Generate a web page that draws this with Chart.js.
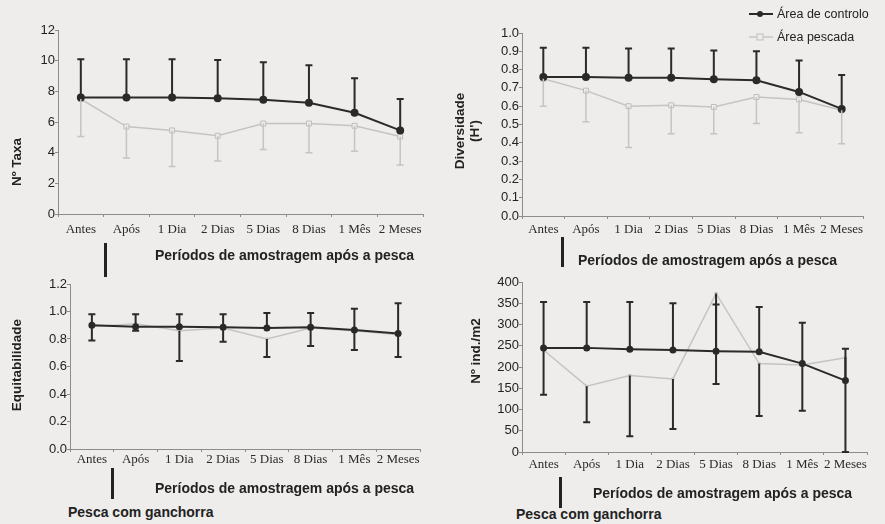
<!DOCTYPE html>
<html>
<head>
<meta charset="utf-8">
<script src="https://cdn.jsdelivr.net/npm/chart.js@4.4.1/dist/chart.umd.min.js"></script>
<style>
  body { margin:0; width:885px; height:524px; overflow:hidden; position:relative;
         background:#eeedeb; font-family:'Liberation Sans', Arial, sans-serif; color:#222; }
  canvas { position:absolute; }
  .t { position:absolute; white-space:nowrap; font-weight:bold; font-size:14px; line-height:14px; }
  .yt { position:absolute; white-space:nowrap; font-weight:bold; font-size:13.5px; line-height:15px;
        text-align:center; transform:translate(-50%,-50%) rotate(-90deg); }
  .mark { position:absolute; width:3px; background:#222; }
  .lg { position:absolute; left:748px; font-size:12.5px; height:14px; line-height:14px; white-space:nowrap; }
  .lg svg { position:absolute; left:0; top:1px; }
  .lg span { position:absolute; left:29px; top:0; }
</style>
</head>
<body>
<canvas id="c1" width="440" height="250" style="left:0;top:0"></canvas>
<canvas id="c2" width="445" height="250" style="left:440px;top:0"></canvas>
<canvas id="c3" width="440" height="230" style="left:0;top:260px"></canvas>
<canvas id="c4" width="445" height="240" style="left:440px;top:260px"></canvas>

<!-- titulos dos eixos -->
<div class="yt" style="left:16px;top:162px">Nº Taxa</div>
<div class="yt" style="left:467px;top:131px">Diversidade<br>(H')</div>
<div class="yt" style="left:16px;top:365px">Equitabilidade</div>
<div class="yt" style="left:475px;top:351px">Nº ind./m2</div>

<div class="t" style="left:155px;top:248px">Períodos de amostragem após a pesca</div>
<div class="t" style="left:578px;top:253px">Períodos de amostragem após a pesca</div>
<div class="t" style="left:155px;top:481px">Períodos de amostragem após a pesca</div>
<div class="t" style="left:593px;top:486px">Períodos de amostragem após a pesca</div>
<div class="t" style="left:68px;top:505px">Pesca com ganchorra</div>
<div class="t" style="left:516px;top:507px">Pesca com ganchorra</div>

<div class="mark" style="left:104px;top:243px;height:34px"></div>
<div class="mark" style="left:561px;top:237px;height:30px"></div>
<div class="mark" style="left:111px;top:468px;height:31px"></div>
<div class="mark" style="left:559px;top:477px;height:31px"></div>

<!-- legenda -->
<div class="lg" style="top:7px">
  <svg width="26" height="12"><line x1="1" y1="6" x2="25" y2="6" stroke="#2a2a2a" stroke-width="2"/><circle cx="12" cy="6" r="3" fill="#2a2a2a"/></svg>
  <span>Área de controlo</span>
</div>
<div class="lg" style="top:30px">
  <svg width="26" height="12"><line x1="1" y1="6" x2="25" y2="6" stroke="#c4c4c4" stroke-width="1.5"/><rect x="9" y="3" width="6" height="6" fill="#eeedeb" stroke="#bdbdbd"/></svg>
  <span>Área pescada</span>
</div>

<script>
const periodos = ['Antes', 'Após', '1 Dia', '2 Dias', '5 Dias', '8 Dias', '1 Mês', '2 Meses'];

// Nº Taxa
const taxaControlo    = [7.6, 7.6, 7.6, 7.55, 7.45, 7.25, 6.6, 5.45];
const taxaControloSup = [10.1, 10.1, 10.1, 10.05, 9.9, 9.7, 8.85, 7.5];
const taxaPescada     = [7.5, 5.7, 5.45, 5.1, 5.9, 5.9, 5.75, 5.05];
const taxaPescadaInf  = [5.05, 3.65, 3.1, 3.45, 4.2, 4.0, 4.1, 3.2];
const taxaTicks = [0, 2, 4, 6, 8, 10, 12];

// Diversidade (H')
const divControlo    = [0.76, 0.76, 0.755, 0.755, 0.747, 0.742, 0.678, 0.585];
const divControloSup = [0.92, 0.92, 0.915, 0.915, 0.905, 0.9, 0.85, 0.77];
const divPescada     = [0.75, 0.685, 0.6, 0.605, 0.596, 0.65, 0.637, 0.578];
const divPescadaInf  = [0.6, 0.515, 0.375, 0.45, 0.45, 0.505, 0.455, 0.395];
const divTicks = [0, 0.1, 0.2, 0.3, 0.4, 0.5, 0.6, 0.7, 0.8, 0.9, 1.0];

// Equitabilidade
const eqControlo    = [0.9, 0.89, 0.89, 0.885, 0.88, 0.885, 0.865, 0.84];
const eqControloSup = [0.98, 0.98, 0.98, 0.98, 0.99, 0.99, 1.02, 1.06];
const eqPescada     = [0.89, 0.91, 0.86, 0.88, 0.8, 0.88, 0.86, 0.83];
const eqPescadaInf  = [0.79, 0.86, 0.64, 0.78, 0.67, 0.75, 0.72, 0.67];
const eqTicks = [0, 0.2, 0.4, 0.6, 0.8, 1.0, 1.2];

// Nº ind./m2
const indControlo    = [245, 245, 242, 240, 237, 236, 208, 168];
const indControloSup = [353, 353, 353, 350, 347, 341, 304, 243];
const indPescada     = [240, 155, 180, 172, 373, 208, 205, 222];
const indPescadaInf  = [135, 70, 37, 54, 160, 85, 97, 0];
const indTicks = [0, 50, 100, 150, 200, 250, 300, 350, 400];

const ESCURO = '#2a2a2a';
const CLARO = '#c4c4c4';
const FUNDO = '#eeedeb';

// desenha as barras de erro (limite guardado em dataset.erro)
const barrasErro = {
  id: 'barrasErro',
  afterDatasetsDraw(chart) {
    const ctx = chart.ctx;
    const y = chart.scales.y;
    for (let i = chart.data.datasets.length - 1; i >= 0; i--) {
      const ds = chart.data.datasets[i];
      if (!ds.erro) continue;
      const meta = chart.getDatasetMeta(i);
      ctx.save();
      ctx.strokeStyle = ds.corErro;
      ctx.lineWidth = ds.larguraErro;
      meta.data.forEach((pt, j) => {
        const y1 = y.getPixelForValue(ds.erro[j]);
        ctx.beginPath();
        ctx.moveTo(pt.x, pt.y);
        ctx.lineTo(pt.x, y1);
        ctx.moveTo(pt.x - 3.5, y1);
        ctx.lineTo(pt.x + 3.5, y1);
        ctx.stroke();
      });
      ctx.restore();
    }
  }
};

function painel(id, o) {
  return new Chart(document.getElementById(id), {
    type: 'line',
    data: {
      labels: periodos,
      datasets: [
        {
          label: 'Área de controlo',
          data: o.controlo,
          erro: o.controloSup,
          corErro: ESCURO,
          larguraErro: 2,
          borderColor: ESCURO,
          backgroundColor: ESCURO,
          borderWidth: 2,
          pointRadius: o.raio,
          pointStyle: 'circle',
          tension: 0
        },
        {
          label: 'Área pescada',
          data: o.pescada,
          erro: o.pescadaInf,
          corErro: o.corErroPescada,
          larguraErro: o.corErroPescada === ESCURO ? 2 : 1.5,
          borderColor: CLARO,
          backgroundColor: FUNDO,
          borderWidth: 1.5,
          pointRadius: o.raioPescada,
          pointStyle: 'rect',
          pointBorderColor: '#bdbdbd',
          pointBorderWidth: 1,
          tension: 0
        }
      ]
    },
    options: {
      responsive: false,
      animation: false,
      layout: { padding: { top: o.top, right: o.right, left: 0, bottom: 0 } },
      plugins: { legend: { display: false }, tooltip: { enabled: false } },
      scales: {
        x: {
          offset: true,
          grid: { offset: true, drawOnChartArea: false, tickLength: 3, color: '#8c8c8c' },
          border: { color: '#8c8c8c', width: 1 },
          ticks: {
            font: { family: "'Liberation Serif', 'Times New Roman', serif", size: 13 },
            color: ESCURO, padding: o.xPad, maxRotation: 0, autoSkip: false
          },
          afterFit: s => { s.height = o.xAltura; }
        },
        y: {
          min: 0,
          max: o.ticks[o.ticks.length - 1],
          afterBuildTicks: s => { s.ticks = o.ticks.map(v => ({ value: v })); },
          grid: { drawOnChartArea: false, tickLength: 3, color: '#8c8c8c' },
          border: { color: '#8c8c8c', width: 1 },
          ticks: {
            font: { family: "'Liberation Sans', Arial, sans-serif", size: 13 },
            color: '#222', padding: 0, autoSkip: false,
            callback: v => v.toFixed(o.casas)
          },
          afterFit: s => { s.width = o.yLargura; }
        }
      }
    },
    plugins: [barrasErro]
  });
}

painel('c1', {
  controlo: taxaControlo, controloSup: taxaControloSup,
  pescada: taxaPescada, pescadaInf: taxaPescadaInf,
  ticks: taxaTicks, casas: 0, corErroPescada: CLARO, raio: 3, raioPescada: 3.5,
  top: 30, right: 17, yLargura: 58, xAltura: 36, xPad: 5
});
painel('c2', {
  controlo: divControlo, controloSup: divControloSup,
  pescada: divPescada, pescadaInf: divPescadaInf,
  ticks: divTicks, casas: 1, corErroPescada: CLARO, raio: 3, raioPescada: 3.5,
  top: 33, right: 22, yLargura: 82, xAltura: 34, xPad: 3
});
painel('c3', {
  controlo: eqControlo, controloSup: eqControloSup,
  pescada: eqPescada, pescadaInf: eqPescadaInf,
  ticks: eqTicks, casas: 1, corErroPescada: ESCURO, raio: 2.5, raioPescada: 1.5,
  top: 24, right: 20, yLargura: 70, xAltura: 41, xPad: 0
});
painel('c4', {
  controlo: indControlo, controloSup: indControloSup,
  pescada: indPescada, pescadaInf: indPescadaInf,
  ticks: indTicks, casas: 0, corErroPescada: ESCURO, raio: 2.5, raioPescada: 1.5,
  top: 22, right: 18, yLargura: 82, xAltura: 48, xPad: 2
});
</script>
</body>
</html>
